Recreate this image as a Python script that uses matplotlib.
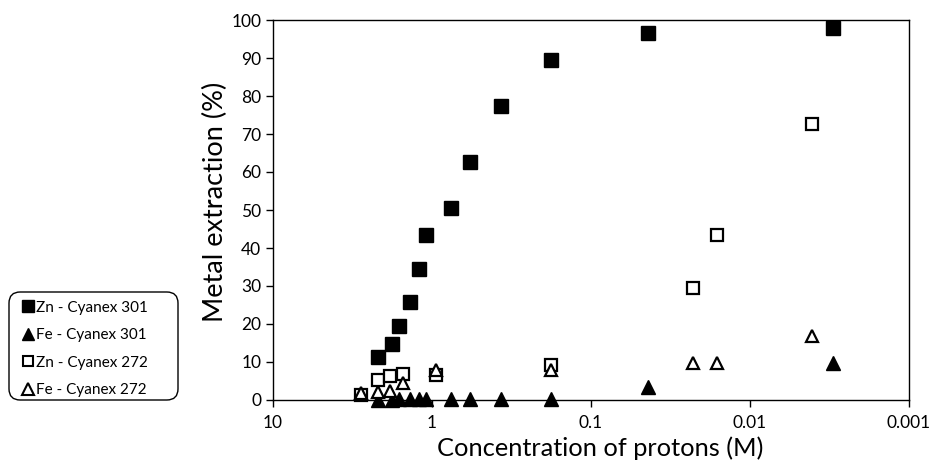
import matplotlib
matplotlib.use("Agg")
import matplotlib.pyplot as plt
from matplotlib.lines import Line2D
from matplotlib.patches import FancyBboxPatch

plt.rcParams['font.family'] = ['Lato', 'DejaVu Sans']

# Data
x_301 = [2.18, 1.78, 1.61, 1.375, 1.20, 1.09, 0.76, 0.574, 0.368, 0.179, 0.044, 0.00302]
zn_301 = [11.3, 14.7, 19.4, 25.8, 34.5, 43.3, 50.4, 62.5, 77.5, 89.4, 96.5, 97.8]
fe_301 = [0.0, 0.0, 0.2, 0.2, 0.2, 0.2, 0.2, 0.2, 0.2, 0.2, 3.5, 9.8]

x_272 = [2.81, 2.18, 1.84, 1.53, 0.944, 0.179, 0.0229, 0.0162, 0.00406]
zn_272 = [1.3, 5.3, 6.3, 6.8, 6.6, 9.2, 29.4, 43.5, 72.7]
fe_272 = [1.8, 2.2, 2.4, 4.5, 7.8, 7.9, 9.8, 9.8, 16.8]

labels = ['Zn - Cyanex 301', 'Fe - Cyanex 301', 'Zn - Cyanex 272', 'Fe - Cyanex 272']
x_ticks = [10, 1, 0.1, 0.01, 0.001]
x_tick_labels = ['10', '1', '0.1', '0.01', '0.001']
y_ticks = list(range(0, 101, 10))

W, H = 931, 469
fig = plt.figure(figsize=(W/100, H/100), dpi=100)
ax = fig.add_axes([273/W, 1-400/H, (909-273)/W, (400-20)/H])

ms_sq = 9.5
ms_tr = 10
ax.plot(x_301, zn_301, linestyle='none', marker='s', ms=ms_sq, mfc='black', mec='black', clip_on=False, zorder=3)
ax.plot(x_301, fe_301, linestyle='none', marker='^', ms=ms_tr, mfc='black', mec='black', clip_on=False, zorder=3)
ax.plot(x_272, zn_272, linestyle='none', marker='s', ms=8.5, mfc='white', mec='black', mew=1.6, clip_on=False, zorder=4)
ax.plot(x_272, fe_272, linestyle='none', marker='^', ms=9, mfc='white', mec='black', mew=1.6, clip_on=False, zorder=5)

ax.set_xscale('log')
ax.set_xlim(10, 0.001)
ax.set_ylim(0, 100)
ax.set_xticks(x_ticks)
ax.set_xticklabels(x_tick_labels)
ax.xaxis.set_minor_locator(matplotlib.ticker.NullLocator())
ax.set_yticks(y_ticks)
ax.tick_params(axis='both', direction='out', length=5, width=1, labelsize=12.5, colors='black')
ax.tick_params(axis='x', pad=6)
for s in ax.spines.values():
    s.set_linewidth(1.0)
    s.set_color('black')

ax.set_xlabel('Concentration of protons (M)', fontsize=18.3)
ax.xaxis.set_label_coords((600-273)/636, -(436-400)/380)
ax.set_ylabel('Metal extraction (%)', fontsize=19.5)
ax.yaxis.set_label_coords(-(273-228)/636, (400-202)/380)

# legend box
box = FancyBboxPatch((9/W, 1-400/H), (178-9)/W, (400-292)/H,
                     boxstyle='round,pad=0,rounding_size=0.012',
                     transform=fig.transFigure, facecolor='white', edgecolor='black',
                     linewidth=1.0, mutation_aspect=W/H)
fig.patches.append(box)

handles = [
    Line2D([], [], linestyle='none', marker='s', ms=8, mfc='black', mec='black'),
    Line2D([], [], linestyle='none', marker='^', ms=8.5, mfc='black', mec='black'),
    Line2D([], [], linestyle='none', marker='s', ms=7.5, mfc='white', mec='black', mew=1.5),
    Line2D([], [], linestyle='none', marker='^', ms=8, mfc='white', mec='black', mew=1.5),
]
leg = fig.legend(handles, labels, loc='upper left', bbox_to_anchor=(15/W, 1-293/H),
                 fontsize=11, frameon=False, handlelength=0.7,
                 handletextpad=0.2, labelspacing=0.88, borderpad=0.5, borderaxespad=0)

fig.savefig('out.png', dpi=100)
